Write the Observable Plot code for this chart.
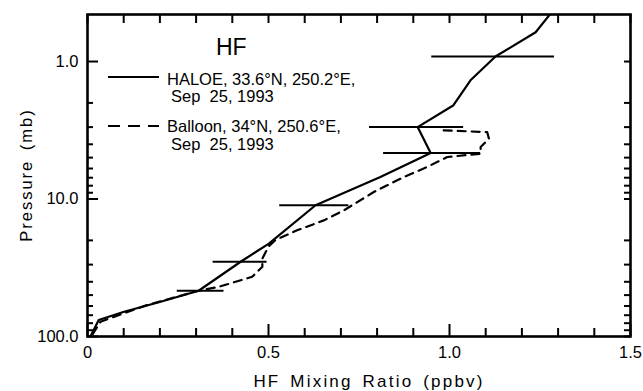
<!DOCTYPE html>
<html><head><meta charset="utf-8">
<script src="https://cdn.jsdelivr.net/npm/d3@7"></script>
<script src="https://cdn.jsdelivr.net/npm/@observablehq/plot@0.6"></script>
<style>body{margin:0;background:#fff} svg{display:block}</style>
</head><body><div id="chart"></div>
<script>
// HALOE profile (solid line): pressure (mb) and HF mixing ratio (ppbv)
const haloeP = [0.456, 0.612, 0.92, 1.37, 2.09, 3.0, 4.63, 6.92, 11.1, 21.1, 28.6, 46.5, 55.9, 66, 75.9, 100];
const haloeX = [1.277, 1.238, 1.127, 1.058, 1.010, 0.912, 0.948, 0.809, 0.630, 0.501, 0.423, 0.307, 0.202, 0.101, 0.031, 0.008];
// HALOE error bars
const errP  = [0.92, 3.0, 4.63, 11.1, 28.6, 46.5];
const errLo = [0.951, 0.779, 0.818, 0.531, 0.347, 0.248];
const errHi = [1.290, 1.039, 1.086, 0.722, 0.496, 0.377];
// Balloon profile (dashed line)
const balloonP = [3.17, 3.26, 3.64, 4.19, 4.68, 4.95, 5.85, 6.92, 8.89, 12.1, 14.3, 16.9, 19.9, 22.0, 27.1, 31.1, 36.8, 43.5, 46.5, 59, 78, 97.5];
const balloonX = [0.984, 1.104, 1.109, 1.086, 1.086, 0.994, 0.938, 0.874, 0.791, 0.708, 0.653, 0.579, 0.519, 0.501, 0.483, 0.483, 0.455, 0.363, 0.307, 0.165, 0.036, 0.013];
// Ticks
const xMajorTicks = [0, 0.5, 1.0, 1.5];
const xTickLabels = ["0", "0.5", "1.0", "1.5"];
const xMinorTicks = [0.1, 0.2, 0.3, 0.4, 0.6, 0.7, 0.8, 0.9, 1.1, 1.2, 1.3, 1.4];
const yMajorTicks = [1, 10, 100];
const yTickLabels = ["1.0", "10.0", "100.0"];
const yMinorTicks = [2, 3, 4, 5, 6, 7, 8, 9, 20, 30, 40, 50, 60, 70, 80, 90];
// Legend / titles
const titleText = "HF";
const legendHaloe = ["HALOE, 33.6°N, 250.2°E,", "Sep  25, 1993"];
const legendBalloon = ["Balloon, 34°N, 250.6°E,", "Sep  25, 1993"];
const xTitle = "HF Mixing Ratio (ppbv)";
const yTitle = "Pressure (mb)";

const haloe = haloeP.map((p, i) => ({p, x: haloeX[i]}));
const balloon = balloonP.map((p, i) => ({p, x: balloonX[i]}));
const errs = errP.map((p, i) => ({p, lo: errLo[i], hi: errHi[i]}));
const xLab = xMajorTicks.map((v, i) => ({v, t: xTickLabels[i]}));
const yLab = yMajorTicks.map((v, i) => ({v, t: yTickLabels[i]}));

const W = 643, H = 391, mL = 87, mR = 13, mT = 14, mB = 55;
const pw = W - mL - mR, ph = H - mT - mB;
const font = "'Liberation Sans', Arial, Helvetica, sans-serif";

const svg = Plot.plot({
  width: W, height: H,
  marginLeft: mL, marginRight: mR, marginTop: mT, marginBottom: mB,
  style: {fontFamily: font, fontSize: "16.5px", color: "#000", background: "#fff"},
  x: {domain: [0, 1.5], axis: null},
  y: {type: "log", domain: [100, 0.455], axis: null},
  marks: [
    Plot.line(haloe, {x: "x", y: "p", stroke: "#000", strokeWidth: 2.2, clip: true}),
    Plot.line(balloon, {x: "x", y: "p", stroke: "#000", strokeWidth: 2.2, strokeDasharray: "8,6", clip: true}),
    Plot.ruleY(errs, {y: "p", x1: "lo", x2: "hi", stroke: "#000", strokeWidth: 2}),
    // inward ticks
    Plot.tickX(xMinorTicks, {x: d => d, insetTop: ph - 8, stroke: "#000", strokeWidth: 2}),
    Plot.tickX(xMajorTicks, {x: d => d, insetTop: ph - 12, stroke: "#000", strokeWidth: 2}),
    Plot.tickX(xMinorTicks.concat(xMajorTicks), {x: d => d, insetBottom: ph - 9, stroke: "#000", strokeWidth: 2}),
    Plot.tickY(yMinorTicks, {y: d => d, insetRight: pw - 6, stroke: "#000", strokeWidth: 2}),
    Plot.tickY(yMajorTicks, {y: d => d, insetRight: pw - 11, stroke: "#000", strokeWidth: 2}),
    Plot.tickY(yMinorTicks.concat(yMajorTicks), {y: d => d, insetLeft: pw - 6, stroke: "#000", strokeWidth: 2}),
    Plot.frame({stroke: "#000", strokeWidth: 2.6}),
    // tick labels
    Plot.text(xLab, {x: "v", text: "t", frameAnchor: "bottom", lineAnchor: "top", dy: 10, fontSize: 16.5, fill: "#000"}),
    Plot.text(yLab, {y: "v", text: "t", frameAnchor: "left", textAnchor: "end", dx: -9, fontSize: 16.5, fill: "#000"})
  ]
});

const g = d3.select(svg);
const ann = g.append("g").attr("font-family", font).attr("fill", "#000").attr("text-anchor", "start");
ann.append("text").attr("x", 369).attr("y", 387).attr("font-size", 17).attr("text-anchor", "middle")
  .style("letter-spacing", "2.2px").style("word-spacing", "3px").text(xTitle);
ann.append("text").attr("transform", "translate(31.5,175) rotate(-90)").attr("font-size", 16.5).attr("text-anchor", "middle")
  .style("letter-spacing", "2px").style("word-spacing", "3px").text(yTitle);
ann.append("text").attr("x", 216).attr("y", 55).attr("font-size", 23).text(titleText);
ann.append("line").attr("x1", 108).attr("x2", 159).attr("y1", 77).attr("y2", 77).attr("stroke", "#000").attr("stroke-width", 2.2);
ann.append("line").attr("x1", 108).attr("x2", 159).attr("y1", 126).attr("y2", 126).attr("stroke", "#000").attr("stroke-width", 2.2).attr("stroke-dasharray", "12,8");
ann.append("text").attr("x", 167).attr("y", 85).attr("font-size", 16.5).text(legendHaloe[0]);
ann.append("text").attr("x", 171).attr("y", 102).attr("font-size", 16.5).style("white-space", "pre").text(legendHaloe[1]);
ann.append("text").attr("x", 167).attr("y", 132).attr("font-size", 16.5).text(legendBalloon[0]);
ann.append("text").attr("x", 171).attr("y", 150).attr("font-size", 16.5).style("white-space", "pre").text(legendBalloon[1]);

document.getElementById("chart").appendChild(svg);
</script>
</body></html>
